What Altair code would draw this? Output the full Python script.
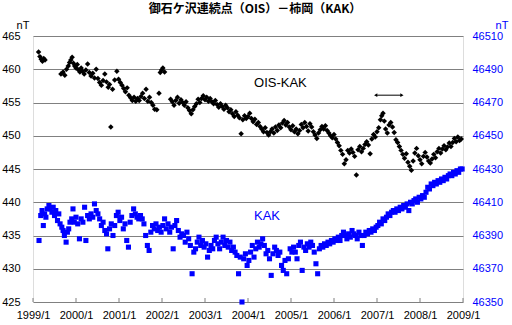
import altair as alt
import pandas as pd

# OIS-KAK (nT, left axis)
ois_t = [1999.13, 1999.16, 1999.19, 1999.22, 1999.25, 1999.28,
         1999.65, 1999.70, 1999.74, 1999.78, 1999.82, 1999.85, 1999.88, 1999.91, 1999.94, 1999.97,
         2000.00, 2000.03, 2000.06, 2000.09, 2000.12, 2000.15, 2000.19, 2000.23, 2000.27, 2000.31,
         2000.35, 2000.39, 2000.43, 2000.47, 2000.51, 2000.55, 2000.59, 2000.63, 2000.67, 2000.71,
         2000.75, 2000.78, 2000.81, 2000.85, 2000.90, 2000.95, 2000.99,
         2001.03, 2001.07, 2001.11, 2001.15, 2001.19, 2001.23, 2001.27, 2001.31, 2001.35, 2001.39,
         2001.43, 2001.47, 2001.51, 2001.55, 2001.59, 2001.63, 2001.67, 2001.71, 2001.75, 2001.79,
         2001.83, 2001.88, 2001.93, 2001.96, 2001.99,
         2002.02, 2002.06, 2002.20, 2002.24, 2002.28, 2002.32, 2002.36, 2002.40, 2002.44, 2002.48,
         2002.52, 2002.56, 2002.60, 2002.64, 2002.68, 2002.72, 2002.76, 2002.80, 2002.84, 2002.88,
         2002.92, 2002.96,
         2003.00, 2003.04, 2003.08, 2003.12, 2003.16, 2003.20, 2003.24, 2003.28, 2003.32, 2003.36,
         2003.40, 2003.44, 2003.48, 2003.52, 2003.56, 2003.60, 2003.64, 2003.68, 2003.72, 2003.76,
         2003.80, 2003.84, 2003.88, 2003.92, 2003.96,
         2004.00, 2004.04, 2004.08, 2004.12, 2004.16, 2004.20, 2004.24, 2004.28, 2004.32, 2004.36,
         2004.40, 2004.44, 2004.48, 2004.52, 2004.56, 2004.60, 2004.64, 2004.68, 2004.72, 2004.76,
         2004.80, 2004.84, 2004.88, 2004.92, 2004.96,
         2005.00, 2005.04, 2005.08, 2005.12, 2005.16, 2005.20, 2005.24, 2005.28, 2005.32, 2005.36,
         2005.40, 2005.44, 2005.48, 2005.52, 2005.56, 2005.60, 2005.64, 2005.68, 2005.72, 2005.76,
         2005.80, 2005.84, 2005.88, 2005.92, 2005.96,
         2006.00, 2006.04, 2006.08, 2006.12, 2006.16, 2006.20, 2006.24, 2006.28, 2006.32, 2006.36,
         2006.40, 2006.44, 2006.48, 2006.52, 2006.56, 2006.60, 2006.64, 2006.68, 2006.72, 2006.76,
         2006.80, 2006.84, 2006.88, 2006.92, 2006.96,
         2007.00, 2007.04, 2007.08, 2007.11, 2007.14, 2007.17, 2007.20, 2007.24, 2007.28, 2007.32,
         2007.36, 2007.40, 2007.44, 2007.48, 2007.52, 2007.56, 2007.60, 2007.64, 2007.68, 2007.72,
         2007.76, 2007.80, 2007.84, 2007.88, 2007.92, 2007.96,
         2008.00, 2008.04, 2008.08, 2008.12, 2008.16, 2008.20, 2008.24, 2008.28, 2008.32, 2008.36,
         2008.40, 2008.44, 2008.48, 2008.52, 2008.56, 2008.60, 2008.64, 2008.68, 2008.72, 2008.76,
         2008.80, 2008.84, 2008.88, 2008.92, 2008.96]
ois_v = [462.6, 461.9, 461.5, 461.2, 461.6, 461.4,
         459.3, 459.6, 459.1, 460.0, 460.5, 461.0, 461.4, 461.8, 460.9, 460.5,
         460.2, 460.7, 459.9, 459.6, 460.2, 459.7, 459.3, 459.9, 460.8, 459.5,
         459.0, 459.4, 458.7, 460.0, 458.6, 458.0, 457.6, 458.3, 459.3, 458.1,
         457.3, 457.7, 451.3, 457.0, 458.4, 459.7, 458.5,
         458.0, 457.6, 457.1, 456.6, 457.2, 456.1, 455.7, 455.3, 455.8, 455.2,
         455.6, 455.3, 455.9, 456.4, 455.6, 457.0, 455.2, 455.8, 455.0, 454.6,
         454.0, 453.9, 456.4, 459.5, 459.9,
         460.2, 459.6, 455.5, 455.1, 454.6, 455.3, 455.8, 454.9, 455.4, 455.0,
         454.6, 455.1, 454.2, 453.8, 453.3, 453.9, 454.4, 454.8, 455.5, 455.0,
         455.6, 456.0,
         455.4, 455.8, 455.2, 455.6, 455.1, 454.8, 455.3, 454.7, 454.3, 454.8,
         454.4, 454.0, 454.6, 454.2, 453.6, 453.9, 453.3, 452.9, 453.6, 453.1,
         452.7, 450.3, 452.4, 453.0, 452.6,
         452.9, 453.4, 452.6, 452.1, 452.5, 451.7, 452.0, 451.4, 451.0, 450.6,
         451.2, 450.5, 450.1, 450.6, 451.0, 450.4, 451.3, 450.8, 451.6, 451.2,
         451.9, 452.3, 451.6, 452.0, 451.3,
         450.9, 451.5, 450.6, 451.0, 450.3, 450.8, 451.7, 451.2, 452.0, 451.4,
         450.7, 451.8, 451.3, 450.6, 450.1, 449.6, 450.4, 450.9, 451.4, 451.0,
         451.5, 450.8, 450.4, 450.0, 449.7,
         450.2, 449.5, 449.0, 448.5, 447.8, 447.2, 445.8, 446.4, 447.8, 447.4,
         448.0, 447.5, 446.9, 444.1, 447.9, 448.4, 447.6, 448.1, 448.7, 449.1,
         448.6, 447.3, 449.5, 450.2, 449.8,
         450.6, 451.2, 452.4, 453.0, 453.4, 452.2, 451.0, 450.4, 451.6, 452.0,
         451.3, 450.5, 449.4, 449.0, 448.4, 447.8, 447.2, 446.6, 447.3, 446.0,
         445.4, 444.8, 446.2, 447.4, 448.1, 447.0,
         446.4, 445.8, 446.9, 447.5, 446.8, 446.2, 445.9, 446.5, 447.2, 446.7,
         447.6, 448.1, 447.4, 448.0, 448.5, 447.9, 448.3, 448.9, 448.4, 449.0,
         449.6, 449.1, 449.8, 449.3, 449.5]

# KAK (nT, right axis)
kak_t = [1999.14, 1999.18, 1999.21, 1999.24, 1999.27, 1999.30, 1999.33, 1999.37, 1999.40, 1999.44,
         1999.47, 1999.50, 1999.53, 1999.57, 1999.60, 1999.63, 1999.67, 1999.70, 1999.73, 1999.77,
         1999.80, 1999.83, 1999.86, 1999.90, 1999.93, 1999.96,
         2000.00, 2000.04, 2000.08, 2000.12, 2000.16, 2000.20, 2000.23, 2000.27, 2000.31, 2000.35,
         2000.39, 2000.43, 2000.47, 2000.51, 2000.55, 2000.59, 2000.63, 2000.67, 2000.71, 2000.74,
         2000.78, 2000.82, 2000.86, 2000.90, 2000.94, 2000.98,
         2001.02, 2001.06, 2001.10, 2001.14, 2001.18, 2001.22, 2001.26, 2001.30, 2001.34, 2001.38,
         2001.42, 2001.46, 2001.50, 2001.54, 2001.58, 2001.62, 2001.66, 2001.70, 2001.74, 2001.78,
         2001.82, 2001.86, 2001.90, 2001.94, 2001.98,
         2002.02, 2002.06, 2002.10, 2002.14, 2002.18, 2002.22, 2002.26, 2002.30, 2002.34, 2002.38,
         2002.42, 2002.46, 2002.50, 2002.54, 2002.58, 2002.62, 2002.66, 2002.70, 2002.74, 2002.78,
         2002.82, 2002.86, 2002.90, 2002.94, 2002.98,
         2003.02, 2003.06, 2003.10, 2003.14, 2003.18, 2003.22, 2003.26, 2003.30, 2003.34, 2003.38,
         2003.42, 2003.46, 2003.50, 2003.54, 2003.58, 2003.62, 2003.66, 2003.70, 2003.74, 2003.78,
         2003.82, 2003.86, 2003.90, 2003.94, 2003.98,
         2004.02, 2004.06, 2004.10, 2004.14, 2004.18, 2004.22, 2004.26, 2004.30, 2004.34, 2004.38,
         2004.42, 2004.46, 2004.50, 2004.54, 2004.58, 2004.62, 2004.66, 2004.70, 2004.74, 2004.78,
         2004.82, 2004.86, 2004.90, 2004.94, 2004.98,
         2005.02, 2005.06, 2005.10, 2005.14, 2005.18, 2005.22, 2005.26, 2005.30, 2005.34, 2005.38,
         2005.42, 2005.46, 2005.50, 2005.54, 2005.58, 2005.62, 2005.66, 2005.70, 2005.74, 2005.78,
         2005.82, 2005.86, 2005.90, 2005.94, 2005.98,
         2006.02, 2006.06, 2006.10, 2006.14, 2006.18, 2006.22, 2006.26, 2006.30, 2006.34, 2006.38,
         2006.42, 2006.46, 2006.50, 2006.54, 2006.58, 2006.62, 2006.66, 2006.70, 2006.74, 2006.78,
         2006.82, 2006.86, 2006.90, 2006.94, 2006.98,
         2007.02, 2007.06, 2007.10, 2007.14, 2007.18, 2007.22, 2007.26, 2007.30, 2007.34, 2007.38,
         2007.42, 2007.46, 2007.50, 2007.54, 2007.58, 2007.62, 2007.66, 2007.70, 2007.74, 2007.78,
         2007.82, 2007.86, 2007.90, 2007.94, 2007.98,
         2008.02, 2008.06, 2008.10, 2008.14, 2008.18, 2008.22, 2008.26, 2008.30, 2008.34, 2008.38,
         2008.42, 2008.46, 2008.50, 2008.54, 2008.58, 2008.62, 2008.66, 2008.70, 2008.74, 2008.78,
         2008.82, 2008.86, 2008.90, 2008.94, 2008.98]
kak_v = [46387, 46402, 46405, 46396, 46403, 46401, 46406, 46408, 46406, 46404,
         46407, 46402, 46405, 46399, 46403, 46397, 46395, 46393, 46390, 46386,
         46392, 46394, 46398, 46400, 46406, 46398,
         46401, 46397, 46388, 46400, 46398, 46407, 46387, 46402, 46400, 46403,
         46401, 46409, 46405, 46403, 46400, 46396, 46398, 46393, 46391, 46382,
         46394, 46397, 46390, 46396, 46402, 46404,
         46399, 46401, 46394, 46397, 46387, 46383, 46398, 46402, 46406, 46403,
         46401, 46400, 46402, 46400, 46397, 46390, 46384, 46381, 46392, 46396,
         46394, 46397, 46393, 46395, 46392,
         46396, 46400, 46394, 46397, 46392, 46395, 46382, 46396, 46399, 46393,
         46389, 46391, 46390, 46386, 46392, 46388, 46384, 46367, 46380, 46382,
         46386, 46389, 46384, 46387, 46383,
         46385, 46377, 46381, 46384, 46382, 46387, 46389, 46385, 46382, 46386,
         46389, 46384, 46387, 46383, 46386, 46381, 46383, 46380, 46378, 46367,
         46377, 46350, 46376, 46379, 46372,
         46375, 46380, 46384, 46377, 46382, 46386, 46383, 46385, 46388, 46384,
         46379, 46381, 46376, 46366, 46379, 46383, 46381, 46378, 46380, 46372,
         46369, 46375, 46367, 46376, 46382,
         46380, 46383, 46380, 46376, 46384, 46386, 46369, 46383, 46381, 46385,
         46383, 46386, 46384, 46380, 46373, 46367, 46382, 46384, 46383, 46385,
         46384, 46386, 46385, 46387, 46386,
         46388, 46387, 46389, 46387, 46390, 46392, 46390, 46388, 46391, 46389,
         46393, 46391, 46390, 46388, 46392, 46390, 46384, 46390, 46392, 46391,
         46393, 46392, 46394, 46393, 46395,
         46396, 46398, 46397, 46400, 46399, 46401, 46403, 46402, 46404, 46405,
         46404, 46406, 46405, 46407, 46406, 46408, 46407, 46409, 46405, 46410,
         46409, 46411, 46412, 46410, 46413,
         46412, 46414, 46413, 46416, 46419, 46418, 46421, 46420, 46422, 46421,
         46423, 46422, 46424, 46423, 46425, 46424, 46426, 46427, 46426, 46428,
         46427, 46429, 46428, 46430, 46430]

years = list(range(1999, 2010))
left_ticks = [425, 430, 435, 440, 445, 450, 455, 460, 465]
right_ticks = [46350, 46370, 46390, 46410, 46430, 46450, 46470, 46490, 46510]

title_text = ["御石ケ沢連続点（OIS）－柿岡（KAK）"]
unit_text = ["nT"]

labels_df = pd.DataFrame({"t": [2004.14, 2004.14], "v": [457.9, 437.9],
                          "txt": ["OIS-KAK", "KAK"], "col": ["black", "#0000FF"]})
arrow_df = pd.DataFrame({"t": [2006.97], "t2": [2007.58], "v": [456.1]})
arrow_heads = pd.DataFrame({"t": [2006.97, 2007.58], "v": [456.1, 456.1],
                            "shape": ["triangle-left", "triangle-right"]})

FONT = "Liberation Sans"
ois_df = pd.DataFrame({"t": ois_t, "v": ois_v})
kak_df = pd.DataFrame({"t": kak_t, "v": kak_v})
ticks_df = pd.DataFrame({"t": years})
title_df = pd.DataFrame({"txt": title_text})
unit_df = pd.DataFrame({"txt": unit_text})

xscale = alt.Scale(domain=[1999, 2009], nice=False, zero=False)
xaxis = alt.Axis(values=years, labelExpr="datum.value + '/1'", grid=False, ticks=False,
                 domain=False, labelFont=FONT, labelFontSize=11, labelColor="black",
                 labelPadding=7, title=None, labelOverlap=False, labelFlush=False,
                 labelBound=False)
lscale = alt.Scale(domain=[425, 465], nice=False, zero=False)
rscale = alt.Scale(domain=[46350, 46510], nice=False, zero=False)

laxis = alt.Axis(
    values=left_ticks, orient="left", grid=True, gridColor="#808080", gridWidth=1,
    ticks=False, domain=False, labelFont=FONT, labelFontSize=11, labelColor="black",
    labelPadding=13, labelOverlap=False, labelFlush=False, format="d", title=None)

X = alt.X("t:Q", scale=xscale, axis=xaxis)
YL = alt.Y("v:Q", scale=lscale, axis=laxis)

ois_pts = alt.Chart(ois_df).mark_point(shape="diamond", filled=True, color="black",
                                        size=30, opacity=1).encode(x=X, y=YL)

txt = alt.Chart(labels_df).mark_text(align="left", baseline="middle", font=FONT,
                                     fontSize=13).encode(
    x=X, y=YL, text="txt:N", color=alt.Color("col:N", scale=None))

arrow_line = alt.Chart(arrow_df).mark_rule(color="black", strokeWidth=1).encode(
    x=X, x2="t2:Q", y=YL)
arrow_pts = alt.Chart(arrow_heads).mark_point(filled=True, color="black", size=14,
                                              opacity=1).encode(
    x=X, y=YL, shape=alt.Shape("shape:N", scale=None))

xticks = alt.Chart(ticks_df).mark_rule(color="#808080").encode(
    x=X, y=alt.value(262), y2=alt.value(266))

title_mark = alt.Chart(title_df).mark_text(
    font="Noto Sans CJK JP", fontSize=12, fontWeight="bold", color="black",
    align="center", baseline="middle").encode(
    text="txt:N", x=alt.value(222), y=alt.value(-27))

unit_left = alt.Chart(unit_df).mark_text(
    font=FONT, fontSize=11, color="black", align="center", baseline="alphabetic").encode(
    text="txt:N", x=alt.value(-10), y=alt.value(-7))
unit_right = alt.Chart(unit_df).mark_text(
    font=FONT, fontSize=11, color="#0000FF", align="center", baseline="alphabetic").encode(
    text="txt:N", x=alt.value(469), y=alt.value(-7))

left_layer = alt.layer(ois_pts, txt, arrow_line, arrow_pts, xticks,
                       title_mark, unit_left, unit_right)

kak_pts = alt.Chart(kak_df).mark_point(shape="square", filled=True, color="#0000FF",
                                        size=26, opacity=1).encode(
    x=X,
    y=alt.Y("v:Q", scale=rscale, axis=alt.Axis(
        values=right_ticks, orient="right", grid=False, ticks=False, domain=False,
        labelFont=FONT, labelFontSize=11, labelColor="#0000FF", labelPadding=9,
        labelOverlap=False, labelFlush=False, format="d", title=None)),
)

chart = alt.layer(left_layer, kak_pts).resolve_scale(y="independent").properties(
    width=430, height=266,
    autosize=alt.AutoSizeParams(type="none"),
    padding={"left": 33, "top": 36, "right": 49, "bottom": 23},
).configure_view(stroke="#808080", strokeWidth=1).configure(background="white")

chart.save("out.html", embed_options={"renderer": "svg", "actions": False})
